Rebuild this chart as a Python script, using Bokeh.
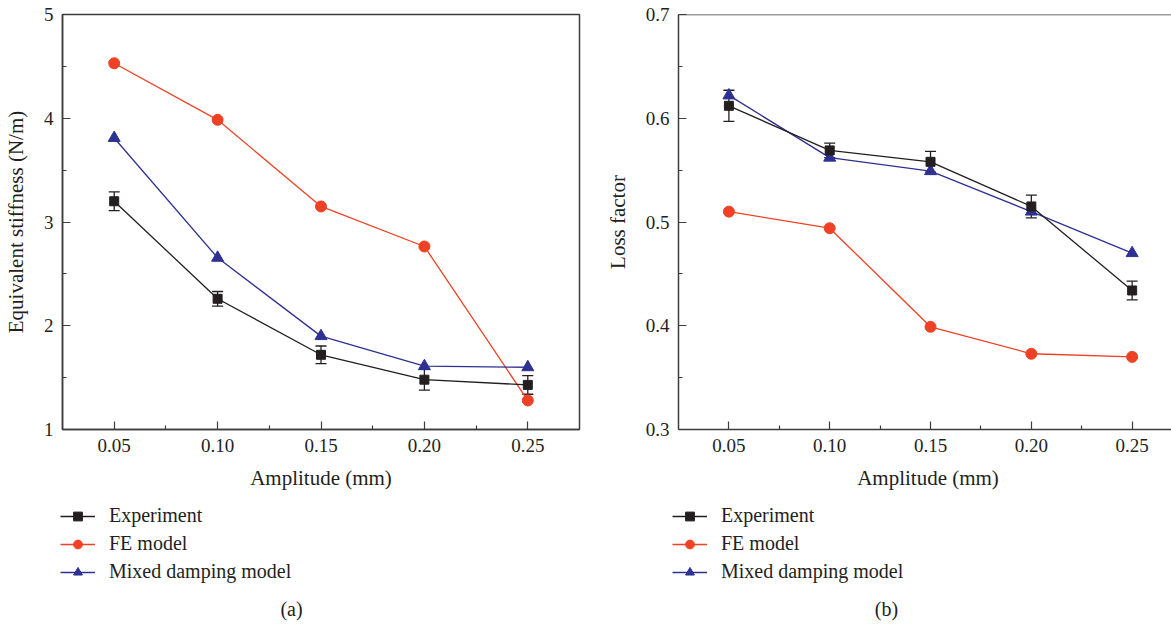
from bokeh.plotting import figure
from bokeh.models import (ColumnDataSource, FixedTicker, Whisker, TeeHead, Legend, LegendItem,
                          Label, Span, PrintfTickFormatter)
from bokeh.layouts import row, column
from bokeh.embed import file_html
from bokeh.resources import INLINE

# ---------------- data ----------------
amplitude = [0.05, 0.10, 0.15, 0.20, 0.25]

stiff_exp = [3.20, 2.26, 1.72, 1.48, 1.43]
stiff_exp_err = [0.09, 0.07, 0.085, 0.10, 0.09]
stiff_fe = [4.53, 3.985, 3.15, 2.764, 1.28]
stiff_mixed = [3.81, 2.655, 1.90, 1.61, 1.60]

loss_exp = [0.612, 0.569, 0.558, 0.515, 0.434]
loss_exp_err = [0.015, 0.007, 0.010, 0.011, 0.009]
loss_fe = [0.510, 0.494, 0.399, 0.373, 0.370]
loss_mixed = [0.622, 0.562, 0.549, 0.510, 0.470]

x_ticks = [0.05, 0.10, 0.15, 0.20, 0.25]
x_minor = [0.075, 0.125, 0.175, 0.225]
stiff_ticks = [1, 2, 3, 4, 5]
stiff_minor = [1.5, 2.5, 3.5, 4.5]
loss_ticks = [0.3, 0.4, 0.5, 0.6, 0.7]
loss_minor = [0.35, 0.45, 0.55, 0.65]

series_names = ["Experiment", "FE model", "Mixed damping model"]
x_label = "Amplitude (mm)"
stiff_label = "Equivalent stiffness (N/m)"
loss_label = "Loss factor"
captions = ["(a)", "(b)"]

# ---------------- style ----------------
FONT = "Liberation Serif"
TXT = "#231f20"
AX = "#3c3c3c"
C_EXP = "#231f20"
C_FE = "#ef4123"
C_MIX = "#2e3192"
SERIES_STYLE = [("square", 9, C_EXP), ("circle", 11, C_FE), ("triangle", 12, C_MIX)]

PLOT_H_BOTTOM = 71
LEG_H = 125


def style_axes(p, xt, xm, yt, ym, yfmt, xlab, ylab):
    p.xaxis.ticker = FixedTicker(ticks=xt, minor_ticks=xm)
    p.yaxis.ticker = FixedTicker(ticks=yt, minor_ticks=ym)
    p.xaxis.formatter = PrintfTickFormatter(format="%.2f")
    p.yaxis.formatter = PrintfTickFormatter(format=yfmt)
    p.xaxis.axis_label = xlab
    p.yaxis.axis_label = ylab
    for ax in (p.xaxis, p.yaxis):
        ax.major_tick_in = 8
        ax.major_tick_out = 0
        ax.minor_tick_in = 4
        ax.minor_tick_out = 0
        ax.axis_line_color = AX
        ax.axis_line_width = 1.5
        ax.major_tick_line_color = AX
        ax.major_tick_line_width = 1.2
        ax.minor_tick_line_color = AX
        ax.minor_tick_line_width = 1.2
        ax.major_label_text_font = FONT
        ax.major_label_text_font_size = "19px"
        ax.major_label_text_color = TXT
        ax.axis_label_text_font = FONT
        ax.axis_label_text_font_size = "21px"
        ax.axis_label_text_font_style = "normal"
        ax.axis_label_text_color = TXT
    p.xaxis.major_label_standoff = 9
    p.xaxis.axis_label_standoff = 11
    p.yaxis.major_label_standoff = 9
    p.yaxis.axis_label_standoff = 13
    p.xgrid.visible = False
    p.ygrid.visible = False


def make_panel(exp, err, fe, mix, y_range, xr_end, yt, ym, yfmt, ylab,
               border_left, border_right, frame_w, full_outline):
    p = figure(x_range=(0.025, xr_end), y_range=y_range, frame_width=frame_w, frame_height=415,
               min_border_left=border_left, min_border_right=border_right,
               min_border_top=14, min_border_bottom=PLOT_H_BOTTOM,
               output_backend="svg", toolbar_location=None, background_fill_color="white",
               border_fill_color="white")
    style_axes(p, x_ticks, x_minor, yt, ym, yfmt, x_label, ylab)
    if full_outline:
        p.outline_line_color = AX
        p.outline_line_width = 1.5
    else:
        p.outline_line_color = None
        p.add_layout(Span(location=y_range[1], dimension="width", line_color=AX, line_width=1.5))

    src = ColumnDataSource(dict(x=amplitude, exp=exp, fe=fe, mix=mix,
                                upper=[v + e for v, e in zip(exp, err)],
                                lower=[v - e for v, e in zip(exp, err)]))

    p.line("x", "fe", source=src, line_color=C_FE, line_width=1.3)
    p.scatter("x", "fe", source=src, marker="circle", size=11, fill_color=C_FE, line_color=C_FE)
    p.line("x", "mix", source=src, line_color=C_MIX, line_width=1.3)
    p.scatter("x", "mix", source=src, marker="triangle", size=12, fill_color=C_MIX, line_color=C_MIX)
    p.line("x", "exp", source=src, line_color=C_EXP, line_width=1.3)
    wh = Whisker(source=src, base="x", upper="upper", lower="lower", line_color=C_EXP, line_width=1.3,
                 upper_head=TeeHead(size=11, line_color=C_EXP, line_width=1.3),
                 lower_head=TeeHead(size=11, line_color=C_EXP, line_width=1.3))
    p.add_layout(wh)
    p.scatter("x", "exp", source=src, marker="square", size=9, fill_color=C_EXP, line_color=C_EXP)
    return p, src


def make_legend_panel(width, glyph_x, caption, cap_x, src):
    # legend-only panel: the legend proxies reuse the series data, but the view range
    # is placed away from the data so that only the legend entries are visible
    f = figure(width=width, height=LEG_H, x_range=(100, 101), y_range=(100, 101),
               x_axis_type=None, y_axis_type=None, min_border=0,
               min_border_left=0, min_border_right=0, min_border_top=0, min_border_bottom=0,
               output_backend="svg", toolbar_location=None, outline_line_color=None,
               background_fill_color="white", border_fill_color="white")
    f.xgrid.visible = False
    f.ygrid.visible = False
    items = []
    for name, col_name, (mk, sz, col) in zip(series_names, ["exp", "fe", "mix"], SERIES_STYLE):
        l = f.line("x", col_name, source=src, line_color=col, line_width=1.3)
        m = f.scatter("x", col_name, source=src, marker=mk, size=sz, fill_color=col, line_color=col)
        items.append(LegendItem(label=name, renderers=[l, m]))
    legend = Legend(items=items, location=(glyph_x, 42), orientation="vertical",
                    border_line_color=None, background_fill_alpha=0,
                    padding=0, margin=0, spacing=5,
                    glyph_width=35, glyph_height=22, label_height=22, label_standoff=14,
                    label_text_font=FONT, label_text_font_size="20px", label_text_color=TXT)
    f.add_layout(legend, "center")
    f.add_layout(Label(x=cap_x, y=17, x_units="screen", y_units="screen", text=caption,
                       text_font=FONT, text_font_size="20px", text_color=TXT,
                       text_align="center", text_baseline="middle"))
    return f


p1, s1 = make_panel(stiff_exp, stiff_exp_err, stiff_fe, stiff_mixed, (1, 5), 0.275,
                    stiff_ticks, stiff_minor, "%d", stiff_label, 60, 23, 517, True)
p2, s2 = make_panel(loss_exp, loss_exp_err, loss_fe, loss_mixed, (0.3, 0.7), 0.2725,
                    loss_ticks, loss_minor, "%.1f", loss_label, 72, 0, 499, False)
l1 = make_legend_panel(600, 60, captions[0], 291, s1)
l2 = make_legend_panel(571, 72, captions[1], 286, s2)

layout = column(row(p1, p2), row(l1, l2), spacing=0)
open("out.html", "w").write(file_html(layout, INLINE))
